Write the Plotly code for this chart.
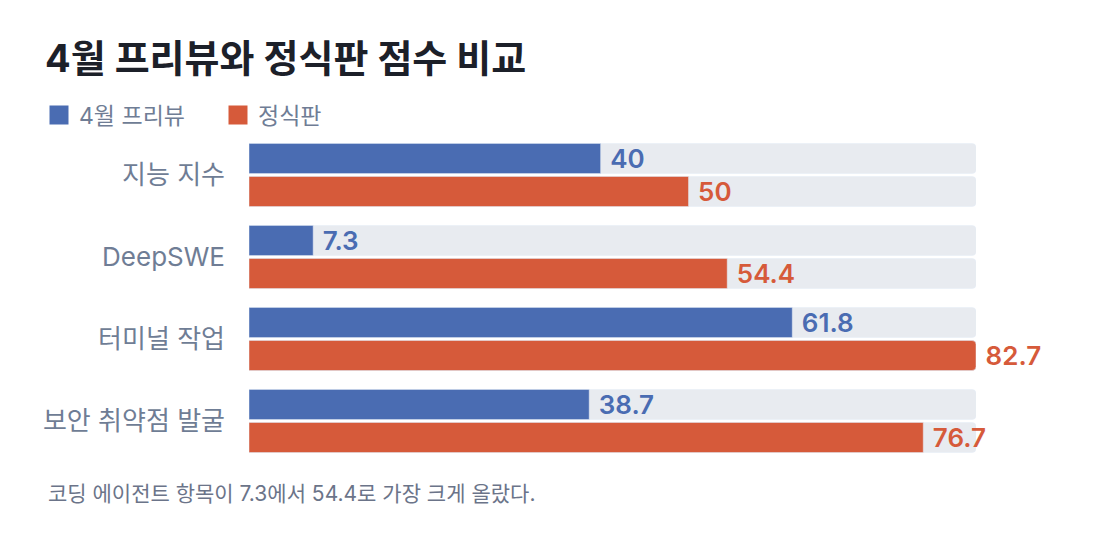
import plotly.graph_objects as go

# 데이터
categories = ["지능 지수", "DeepSWE", "터미널 작업", "보안 취약점 발굴"]
preview_scores = [40, 7.3, 61.8, 38.7]
final_scores = [50, 54.4, 82.7, 76.7]
series_names = ["4월 프리뷰", "정식판"]

title_text = "4월 프리뷰와 정식판 점수 비교"
note_text = "코딩 에이전트 항목이 7.3에서 54.4로 가장 크게 올랐다."

BLUE = "#4a6cb2"
ORANGE = "#d65a3a"
TRACK = "#e8ebf0"
LABEL_GREY = "#6f7d95"
FONT = "Inter, 'Noto Sans CJK KR', sans-serif"

W, H = 1100, 534
# 페이지 기본 여백(8px) 보정
L, R, T, B = 241, 132, 126, 80
plot_w, plot_h = W - L - R, H - T - B

track_max = max(preview_scores + final_scores)

fig = go.Figure()

# 회색 배경 트랙
for grp in ["a", "b"]:
    fig.add_trace(go.Bar(
        y=categories, x=[track_max] * len(categories), orientation="h",
        marker=dict(color=TRACK, cornerradius=4), offsetgroup=grp,
        showlegend=False, hoverinfo="skip",
    ))

# 실제 점수 막대
for name, vals, color, grp in [
    (series_names[0], preview_scores, BLUE, "a"),
    (series_names[1], final_scores, ORANGE, "b"),
]:
    fig.add_trace(go.Bar(
        name=name, y=categories, x=vals, orientation="h",
        marker=dict(color=color, cornerradius=4), offsetgroup=grp,
        text=["\u00a0" + f"{v:g}" for v in vals],
        textposition="outside", cliponaxis=False, constraintext="none",
        outsidetextfont=dict(family=FONT, size=26, color=color, weight=600),
        showlegend=False,
    ))
    # 범례용 (큰 사각형 기호)
    fig.add_trace(go.Scatter(
        name=name, x=[None], y=[None], mode="markers",
        marker=dict(symbol="square", size=16, color=color,
                    line=dict(color=color, width=3)),
    ))

fig.update_layout(
    width=W, height=H,
    margin=dict(l=L, r=R, t=T, b=B, autoexpand=False),
    paper_bgcolor="white", plot_bgcolor="white",
    barmode="group", bargap=0.195, bargroupgap=0.09,
    font=dict(family=FONT),
    title=dict(
        text=title_text, xref="container", yref="container",
        x=37 / W, y=1 - 51 / H, xanchor="left", yanchor="middle",
        font=dict(size=38, color="#1c2029", weight="bold"),
    ),
    legend=dict(
        orientation="h", xref="container", yref="container",
        x=31 / W, y=1 - 107 / H, xanchor="left", yanchor="middle",
        font=dict(size=23, color=LABEL_GREY), traceorder="normal",
        itemwidth=30, entrywidth=134, entrywidthmode="pixels",
        itemsizing="trace",
    ),
    xaxis=dict(range=[0, track_max], visible=False, fixedrange=True),
    yaxis=dict(
        autorange="reversed", showgrid=False, zeroline=False, showline=False,
        ticks="", ticklabelstandoff=23,
        tickfont=dict(size=26, color=LABEL_GREY),
    ),
    hovermode=False,
    annotations=[dict(
        text=note_text, xref="paper", yref="paper",
        x=(38 - L) / plot_w, y=-(485 - (H - B)) / plot_h,
        xanchor="left", yanchor="middle", showarrow=False,
        font=dict(size=21, color="#6b7489"),
    )],
)

fig.write_html("out.html")
